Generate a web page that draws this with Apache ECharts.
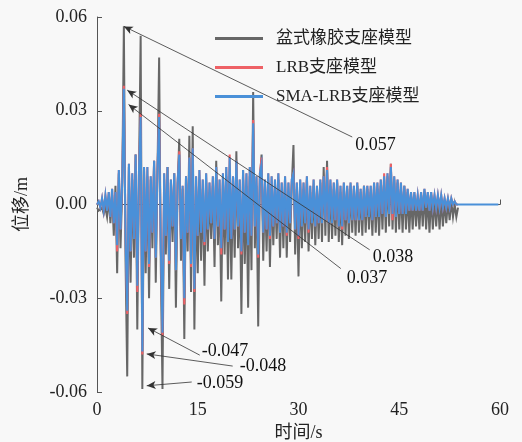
<!DOCTYPE html>
<html>
<head>
<meta charset="utf-8">
<script src="https://cdn.jsdelivr.net/npm/echarts@6/dist/echarts.min.js"></script>
<style>
  html, body { margin: 0; padding: 0; background: #f8f8f8; }
  #chart { width: 522px; height: 442px; }
</style>
</head>
<body>
<div id="chart"></div>
<script>
// Displacement time histories (m), sampled every 0.25 s from t = 0
const dt = 0.25;
const seriesNames = ['盆式橡胶支座模型', 'LRB支座模型', 'SMA-LRB支座模型'];
const xTicks = [0, 15, 30, 45, 60];
const yTicks = [-0.06, -0.03, 0.00, 0.03, 0.06];

const grayVals = [
  -0.001,-0.002,-0.002,-0.001,-0.003,-0.001,-0.004,0.002,-0.006,0.003,
  -0.010,0.006,-0.022,0.010,-0.014,0.004,0.057,-0.018,-0.055,0.012,
  -0.025,0.008,-0.017,0.016,-0.040,0.010,0.054,-0.059,0.012,-0.022,
  0.009,-0.030,0.008,-0.014,0.014,-0.025,0.010,0.047,-0.020,-0.059,
  0.008,-0.016,0.012,-0.027,0.007,-0.012,0.010,-0.033,0.006,0.021,
  -0.018,0.005,-0.043,0.009,-0.015,0.022,-0.028,0.025,-0.040,0.006,
  -0.022,0.008,-0.018,0.005,-0.026,0.007,-0.015,0.004,-0.011,0.006,
  -0.020,0.014,-0.013,0.005,-0.031,0.007,-0.016,0.009,-0.024,0.008,
  -0.024,0.006,-0.017,0.017,-0.014,0.005,-0.035,0.008,-0.019,0.006,
  -0.033,0.009,-0.021,0.036,-0.014,0.006,-0.039,0.008,0.016,-0.018,
  0.005,-0.015,0.007,-0.020,0.006,-0.013,0.004,-0.011,0.008,-0.017,
  0.005,-0.014,0.007,-0.017,0.004,-0.012,0.006,0.019,-0.016,0.005,
  -0.023,0.007,-0.014,0.005,-0.012,0.008,-0.015,0.004,-0.011,0.006,
  -0.013,0.004,-0.011,0.007,-0.012,0.012,-0.010,0.014,-0.012,0.006,
  -0.011,0.005,-0.010,0.007,-0.012,0.004,-0.013,0.006,-0.010,0.005,
  -0.011,0.006,-0.009,0.005,-0.010,0.006,-0.009,0.004,-0.010,0.006,
  -0.009,0.005,-0.008,0.004,-0.010,0.006,-0.009,0.005,-0.010,0.006,
  -0.008,0.008,-0.009,0.009,-0.007,0.013,-0.008,0.008,-0.009,0.007,
  -0.008,0.005,-0.009,0.006,-0.008,0.004,-0.009,0.003,-0.008,0.003,
  -0.007,0.002,-0.008,0.003,-0.007,0.004,-0.008,0.003,-0.009,0.003,
  -0.008,0.002,-0.007,0.002,-0.008,0.002,-0.007,0.001,-0.006,0.001,
  -0.005,0.001,-0.004,0.000,-0.004,-0.001
];

const redVals = [
  0.000,0.001,-0.001,0.002,-0.002,0.003,-0.002,0.004,-0.004,0.005,
  -0.006,0.004,-0.015,0.011,-0.008,0.007,0.038,-0.011,-0.035,0.013,
  -0.015,0.010,-0.011,0.016,-0.028,0.011,0.029,-0.048,0.012,-0.015,
  0.012,-0.020,0.009,-0.009,0.014,-0.017,0.011,0.029,-0.014,-0.042,
  0.010,-0.010,0.012,-0.019,0.008,-0.007,0.010,-0.021,0.007,0.017,
  -0.011,0.006,-0.032,0.009,-0.009,0.015,-0.020,0.018,-0.028,0.009,
  -0.010,0.011,-0.009,0.008,-0.013,0.010,-0.008,0.007,-0.006,0.009,
  -0.011,0.012,-0.007,0.008,-0.016,0.010,-0.008,0.012,-0.012,0.016,
  -0.011,0.009,-0.008,0.014,-0.007,0.008,-0.016,0.011,-0.009,0.010,
  -0.013,0.012,-0.010,0.027,-0.007,0.009,-0.017,0.010,0.015,-0.009,
  0.008,-0.008,0.010,-0.011,0.009,-0.007,0.008,-0.006,0.010,-0.009,
  0.007,-0.007,0.009,-0.010,0.007,-0.006,0.008,0.010,-0.008,0.007,
  -0.011,0.008,-0.007,0.007,-0.006,0.009,-0.009,0.006,-0.006,0.008,
  -0.007,0.006,-0.006,0.008,-0.006,0.009,-0.005,0.012,-0.006,0.008,
  -0.006,0.007,-0.005,0.008,-0.007,0.006,-0.008,0.007,-0.005,0.006,
  -0.006,0.007,-0.005,0.006,-0.005,0.007,-0.005,0.005,-0.005,0.006,
  -0.004,0.006,-0.004,0.006,-0.005,0.007,-0.004,0.007,-0.004,0.008,
  -0.003,0.010,-0.004,0.010,-0.003,0.013,-0.005,0.009,-0.004,0.008,
  -0.003,0.007,-0.003,0.006,-0.003,0.005,-0.002,0.004,-0.002,0.004,
  -0.002,0.003,-0.002,0.004,-0.002,0.005,-0.001,0.004,-0.002,0.004,
  -0.001,0.003,-0.001,0.003,-0.001,0.003,-0.001,0.002,-0.001,0.002,
  -0.001,0.002,0.000,0.001,0.000,0.000
];

const blueVals = [
  0.000,0.001,-0.001,0.002,-0.002,0.003,-0.002,0.004,-0.004,0.005,
  -0.006,0.004,-0.013,0.011,-0.008,0.007,0.037,-0.011,-0.034,0.013,
  -0.015,0.010,-0.011,0.016,-0.026,0.011,0.028,-0.047,0.012,-0.015,
  0.012,-0.019,0.009,-0.009,0.014,-0.017,0.011,0.028,-0.014,-0.041,
  0.010,-0.010,0.012,-0.018,0.008,-0.007,0.010,-0.021,0.007,0.016,
  -0.011,0.006,-0.030,0.009,-0.009,0.015,-0.019,0.018,-0.027,0.009,
  -0.010,0.011,-0.009,0.008,-0.012,0.010,-0.008,0.007,-0.006,0.009,
  -0.011,0.012,-0.007,0.008,-0.014,0.010,-0.008,0.012,-0.012,0.015,
  -0.011,0.009,-0.008,0.014,-0.007,0.008,-0.015,0.011,-0.009,0.010,
  -0.013,0.012,-0.010,0.026,-0.007,0.009,-0.016,0.010,0.013,-0.009,
  0.008,-0.008,0.010,-0.010,0.009,-0.007,0.008,-0.006,0.010,-0.009,
  0.007,-0.007,0.009,-0.009,0.007,-0.006,0.008,0.010,-0.008,0.007,
  -0.010,0.008,-0.007,0.007,-0.006,0.009,-0.008,0.006,-0.006,0.008,
  -0.007,0.006,-0.006,0.008,-0.006,0.009,-0.005,0.011,-0.006,0.008,
  -0.006,0.007,-0.005,0.008,-0.007,0.006,-0.007,0.007,-0.005,0.006,
  -0.006,0.007,-0.005,0.006,-0.005,0.007,-0.005,0.005,-0.005,0.006,
  -0.004,0.006,-0.004,0.006,-0.005,0.007,-0.004,0.007,-0.004,0.008,
  -0.003,0.009,-0.004,0.010,-0.003,0.012,-0.003,0.009,-0.004,0.008,
  -0.003,0.007,-0.003,0.006,-0.003,0.005,-0.002,0.004,-0.002,0.004,
  -0.002,0.003,-0.002,0.004,-0.002,0.005,-0.001,0.004,-0.002,0.004,
  -0.001,0.003,-0.001,0.003,-0.001,0.003,-0.001,0.002,-0.001,0.002,
  -0.001,0.002,0.000,0.001,0.000,0.000,
  // record continues at rest to the end of the window
  0.000,0.000,0.000,0.000,0.000,0.000,0.000,0.000,0.000,0.000,0.000,0.000,
  0.000,0.000,0.000,0.000,0.000,0.000,0.000,0.000,0.000,0.000,0.000,0.000
];

// Peak call-outs: label text, arrow tip [t, u] and label anchor [t, u]
const peakNotes = [
  { text: '0.057',  tip: [4.0, 0.057],   tail: [38.0, 0.0216] },
  { text: '0.038',  tip: [4.5, 0.0366],  tail: [40.6, -0.0145] },
  { text: '0.037',  tip: [4.7, 0.032],   tail: [36.3, -0.0205] },
  { text: '-0.047', tip: [7.6, -0.0395], tail: [15.3, -0.0482] },
  { text: '-0.048', tip: [7.4, -0.0478], tail: [20.2, -0.0517] },
  { text: '-0.059', tip: [7.4, -0.0580], tail: [14.1, -0.0568] }
];
// pixel nudges of each call-out label from its anchor
const noteOffsets = [[2, 8], [2, 7], [5, 10], [1, -4], [6, 0], [4, 1]];

const toPairs = vals => vals.map((v, i) => [i * dt, v]);

const serif = '"Liberation Serif", "Noto Sans CJK SC", serif';
const colors = ['#676767', '#ee6166', '#4a90d8'];

const chart = echarts.init(document.getElementById('chart'), null, { renderer: 'canvas' });

const lineSeries = [grayVals, redVals, blueVals].map((vals, k) => ({
  name: seriesNames[k],
  type: 'line',
  data: toPairs(vals),
  showSymbol: false,
  symbol: 'none',
  lineStyle: { width: 2, color: colors[k], join: 'miter' },
  itemStyle: { color: colors[k] },
  z: 2 + k
}));

// Overlay carrying the arrows and value labels
lineSeries.push({
  name: 'notes',
  type: 'line',
  data: [],
  z: 10,
  markLine: {
    silent: true,
    symbol: ['none', 'arrow'],
    symbolSize: [6, 9],
    lineStyle: { color: '#333', width: 0.8, type: 'solid' },
    label: { show: false },
    data: peakNotes.map(n => [{ coord: n.tail }, { coord: n.tip }])
  },
  markPoint: {
    silent: true,
    symbol: 'circle',
    symbolSize: 0,
    data: peakNotes.map((n, i) => ({
      name: n.text,
      coord: n.tail,
      label: {
        show: true,
        position: 'right',
        distance: 1,
        offset: noteOffsets[i],
        color: '#111',
        fontFamily: serif,
        fontSize: 18,
        formatter: p => p.name
      }
    }))
  }
});

chart.setOption({
  animation: false,
  backgroundColor: '#f8f8f8',
  grid: { left: 97, right: 22, top: 17, bottom: 50, containLabel: false, outerBoundsMode: 'none' },
  legend: {
    data: seriesNames,
    orient: 'vertical',
    left: 210,
    top: 25,
    icon: 'rect',
    itemWidth: 48,
    itemHeight: 3,
    itemGap: 12,
    textStyle: { fontFamily: serif, fontSize: 17, color: '#222', padding: [0, 0, 0, 8] }
  },
  xAxis: {
    type: 'value',
    min: xTicks[0],
    max: xTicks[xTicks.length - 1],
    interval: 15,
    name: '时间/s',
    nameLocation: 'middle',
    nameGap: 32,
    nameTextStyle: { fontFamily: serif, fontSize: 18, color: '#222' },
    axisLine: { show: true, lineStyle: { color: '#555', width: 1 } },
    axisTick: { show: true, inside: true, length: 5, lineStyle: { color: '#555' } },
    axisLabel: { fontFamily: serif, fontSize: 18, color: '#222', margin: 9 },
    splitLine: { show: false }
  },
  yAxis: {
    type: 'value',
    min: yTicks[0],
    max: yTicks[yTicks.length - 1],
    interval: 0.03,
    name: '位移/m',
    nameLocation: 'middle',
    nameGap: 66,
    nameTextStyle: { fontFamily: serif, fontSize: 18, color: '#222' },
    axisLine: { show: true, lineStyle: { color: '#555', width: 1 } },
    axisTick: { show: true, inside: true, length: 5, lineStyle: { color: '#555' } },
    axisLabel: { fontFamily: serif, fontSize: 18, color: '#222', margin: 10, formatter: v => v.toFixed(2) },
    splitLine: { show: false }
  },
  series: lineSeries
});
</script>
</body>
</html>
